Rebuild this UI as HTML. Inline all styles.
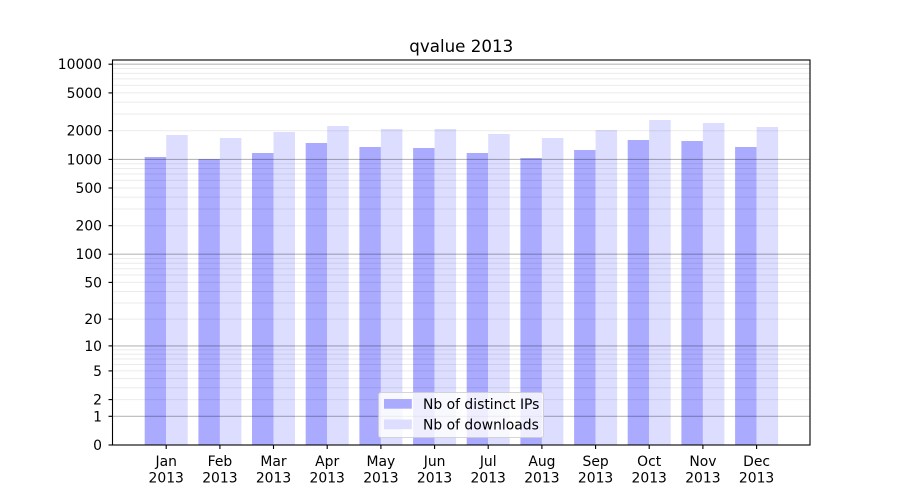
<!DOCTYPE html>
<html>
<head>
<meta charset="utf-8">
<style>
  html,body{margin:0;padding:0;background:#fff;}
  svg{display:block;}
  text{font-family:"DejaVu Sans","Liberation Sans",sans-serif;fill:#000;}
</style>
</head>
<body>
<svg width="900" height="500" viewBox="0 0 900 500" xmlns="http://www.w3.org/2000/svg">
  <rect x="0" y="0" width="900" height="500" fill="#fff"/>
  <!-- bars IPs -->
  <g fill="#aaaaff">
    <rect x="144.7" y="157" width="21.5" height="288"/>
    <rect x="198.4" y="159" width="21.5" height="286"/>
    <rect x="252.0" y="153" width="21.5" height="292"/>
    <rect x="305.7" y="143" width="21.5" height="302"/>
    <rect x="359.4" y="147" width="21.5" height="298"/>
    <rect x="413.1" y="148" width="21.5" height="297"/>
    <rect x="466.7" y="153" width="21.5" height="292"/>
    <rect x="520.4" y="158" width="21.5" height="287"/>
    <rect x="574.1" y="150" width="21.5" height="295"/>
    <rect x="627.7" y="140" width="21.5" height="305"/>
    <rect x="681.4" y="141" width="21.5" height="304"/>
    <rect x="735.1" y="147" width="21.5" height="298"/>
  </g>
  <!-- bars downloads -->
  <g fill="#ddddff">
    <rect x="166.2" y="135" width="21.5" height="310"/>
    <rect x="219.9" y="138" width="21.5" height="307"/>
    <rect x="273.5" y="132" width="21.5" height="313"/>
    <rect x="327.2" y="126" width="21.5" height="319"/>
    <rect x="380.9" y="129" width="21.5" height="316"/>
    <rect x="434.6" y="129" width="21.5" height="316"/>
    <rect x="488.2" y="134" width="21.5" height="311"/>
    <rect x="541.9" y="138" width="21.5" height="307"/>
    <rect x="595.6" y="130" width="21.5" height="315"/>
    <rect x="649.2" y="120" width="21.5" height="325"/>
    <rect x="702.9" y="123" width="21.5" height="322"/>
    <rect x="756.6" y="127" width="21.5" height="318"/>
  </g>
  <!-- minor grid -->
  <g stroke="rgba(0,0,0,0.08)" stroke-width="1">
    <line x1="112.5" x2="810" y1="399.6" y2="399.6"/>
    <line x1="112.5" x2="810" y1="387.7" y2="387.7"/>
    <line x1="112.5" x2="810" y1="378.5" y2="378.5"/>
    <line x1="112.5" x2="810" y1="370.9" y2="370.9"/>
    <line x1="112.5" x2="810" y1="364.5" y2="364.5"/>
    <line x1="112.5" x2="810" y1="359.0" y2="359.0"/>
    <line x1="112.5" x2="810" y1="354.2" y2="354.2"/>
    <line x1="112.5" x2="810" y1="349.8" y2="349.8"/>
    <line x1="112.5" x2="810" y1="319.1" y2="319.1"/>
    <line x1="112.5" x2="810" y1="303.0" y2="303.0"/>
    <line x1="112.5" x2="810" y1="291.5" y2="291.5"/>
    <line x1="112.5" x2="810" y1="282.4" y2="282.4"/>
    <line x1="112.5" x2="810" y1="275.0" y2="275.0"/>
    <line x1="112.5" x2="810" y1="268.8" y2="268.8"/>
    <line x1="112.5" x2="810" y1="263.3" y2="263.3"/>
    <line x1="112.5" x2="810" y1="258.5" y2="258.5"/>
    <line x1="112.5" x2="810" y1="225.7" y2="225.7"/>
    <line x1="112.5" x2="810" y1="209.0" y2="209.0"/>
    <line x1="112.5" x2="810" y1="197.1" y2="197.1"/>
    <line x1="112.5" x2="810" y1="188.0" y2="188.0"/>
    <line x1="112.5" x2="810" y1="180.4" y2="180.4"/>
    <line x1="112.5" x2="810" y1="174.0" y2="174.0"/>
    <line x1="112.5" x2="810" y1="168.5" y2="168.5"/>
    <line x1="112.5" x2="810" y1="163.7" y2="163.7"/>
    <line x1="112.5" x2="810" y1="130.7" y2="130.7"/>
    <line x1="112.5" x2="810" y1="114.0" y2="114.0"/>
    <line x1="112.5" x2="810" y1="102.1" y2="102.1"/>
    <line x1="112.5" x2="810" y1="92.9" y2="92.9"/>
    <line x1="112.5" x2="810" y1="85.3" y2="85.3"/>
    <line x1="112.5" x2="810" y1="78.9" y2="78.9"/>
    <line x1="112.5" x2="810" y1="73.4" y2="73.4"/>
    <line x1="112.5" x2="810" y1="68.5" y2="68.5"/>
  </g>
  <!-- major grid -->
  <g stroke="rgba(0,0,0,0.28)" stroke-width="1.1">
    <line x1="112.5" x2="810" y1="416.3" y2="416.3"/>
    <line x1="112.5" x2="810" y1="345.9" y2="345.9"/>
    <line x1="112.5" x2="810" y1="254.2" y2="254.2"/>
    <line x1="112.5" x2="810" y1="159.4" y2="159.4"/>
    <line x1="112.5" x2="810" y1="64.2" y2="64.2"/>
  </g>
  <!-- axes frame -->
  <rect x="112.5" y="60" width="697.5" height="385" fill="none" stroke="#000" stroke-width="1.1"/>
  <!-- y ticks -->
  <g stroke="#000" stroke-width="1.1">
    <line x1="108.5" x2="112.5" y1="445" y2="445"/>
    <line x1="108.5" x2="112.5" y1="416.3" y2="416.3"/>
    <line x1="108.5" x2="112.5" y1="399.6" y2="399.6"/>
    <line x1="108.5" x2="112.5" y1="370.9" y2="370.9"/>
    <line x1="108.5" x2="112.5" y1="345.9" y2="345.9"/>
    <line x1="108.5" x2="112.5" y1="319.1" y2="319.1"/>
    <line x1="108.5" x2="112.5" y1="282.4" y2="282.4"/>
    <line x1="108.5" x2="112.5" y1="254.2" y2="254.2"/>
    <line x1="108.5" x2="112.5" y1="225.7" y2="225.7"/>
    <line x1="108.5" x2="112.5" y1="188.0" y2="188.0"/>
    <line x1="108.5" x2="112.5" y1="159.4" y2="159.4"/>
    <line x1="108.5" x2="112.5" y1="130.7" y2="130.7"/>
    <line x1="108.5" x2="112.5" y1="92.9" y2="92.9"/>
    <line x1="108.5" x2="112.5" y1="64.2" y2="64.2"/>
  </g>
  <g font-size="13.9" text-anchor="end">
    <text x="102" y="450">0</text>
    <text x="102" y="421.3">1</text>
    <text x="102" y="404.6">2</text>
    <text x="102" y="375.9">5</text>
    <text x="102" y="350.9">10</text>
    <text x="102" y="324.1">20</text>
    <text x="102" y="287.4">50</text>
    <text x="102" y="259.2">100</text>
    <text x="102" y="230.7">200</text>
    <text x="102" y="193.0">500</text>
    <text x="102" y="164.4">1000</text>
    <text x="102" y="135.7">2000</text>
    <text x="102" y="97.9">5000</text>
    <text x="102" y="69.2">10000</text>
  </g>
  <!-- x ticks -->
  <g stroke="#000" stroke-width="1.1">
    <line x1="166.2" x2="166.2" y1="445" y2="449"/>
    <line x1="219.9" x2="219.9" y1="445" y2="449"/>
    <line x1="273.5" x2="273.5" y1="445" y2="449"/>
    <line x1="327.2" x2="327.2" y1="445" y2="449"/>
    <line x1="380.9" x2="380.9" y1="445" y2="449"/>
    <line x1="434.6" x2="434.6" y1="445" y2="449"/>
    <line x1="488.2" x2="488.2" y1="445" y2="449"/>
    <line x1="541.9" x2="541.9" y1="445" y2="449"/>
    <line x1="595.6" x2="595.6" y1="445" y2="449"/>
    <line x1="649.2" x2="649.2" y1="445" y2="449"/>
    <line x1="702.9" x2="702.9" y1="445" y2="449"/>
    <line x1="756.6" x2="756.6" y1="445" y2="449"/>
  </g>
  <g font-size="13.9" text-anchor="middle">
    <text x="166.2" y="466">Jan</text><text x="166.2" y="482.5">2013</text>
    <text x="219.9" y="466">Feb</text><text x="219.9" y="482.5">2013</text>
    <text x="273.5" y="466">Mar</text><text x="273.5" y="482.5">2013</text>
    <text x="327.2" y="466">Apr</text><text x="327.2" y="482.5">2013</text>
    <text x="380.9" y="466">May</text><text x="380.9" y="482.5">2013</text>
    <text x="434.6" y="466">Jun</text><text x="434.6" y="482.5">2013</text>
    <text x="488.2" y="466">Jul</text><text x="488.2" y="482.5">2013</text>
    <text x="541.9" y="466">Aug</text><text x="541.9" y="482.5">2013</text>
    <text x="595.6" y="466">Sep</text><text x="595.6" y="482.5">2013</text>
    <text x="649.2" y="466">Oct</text><text x="649.2" y="482.5">2013</text>
    <text x="702.9" y="466">Nov</text><text x="702.9" y="482.5">2013</text>
    <text x="756.6" y="466">Dec</text><text x="756.6" y="482.5">2013</text>
  </g>
  <!-- title -->
  <text x="461.25" y="52" font-size="16.7" text-anchor="middle">qvalue 2013</text>
  <!-- legend -->
  <rect x="378.5" y="392.5" width="165" height="45" rx="2.5" ry="2.5" fill="rgba(255,255,255,0.8)" stroke="rgba(204,204,204,0.8)" stroke-width="1"/>
  <rect x="384" y="399" width="27.8" height="9.7" fill="#aaaaff"/>
  <rect x="384" y="419.5" width="27.8" height="9.7" fill="#ddddff"/>
  <g font-size="13.9">
    <text x="423" y="409">Nb of distinct IPs</text>
    <text x="423" y="429.5">Nb of downloads</text>
  </g>
</svg>
</body>
</html>
